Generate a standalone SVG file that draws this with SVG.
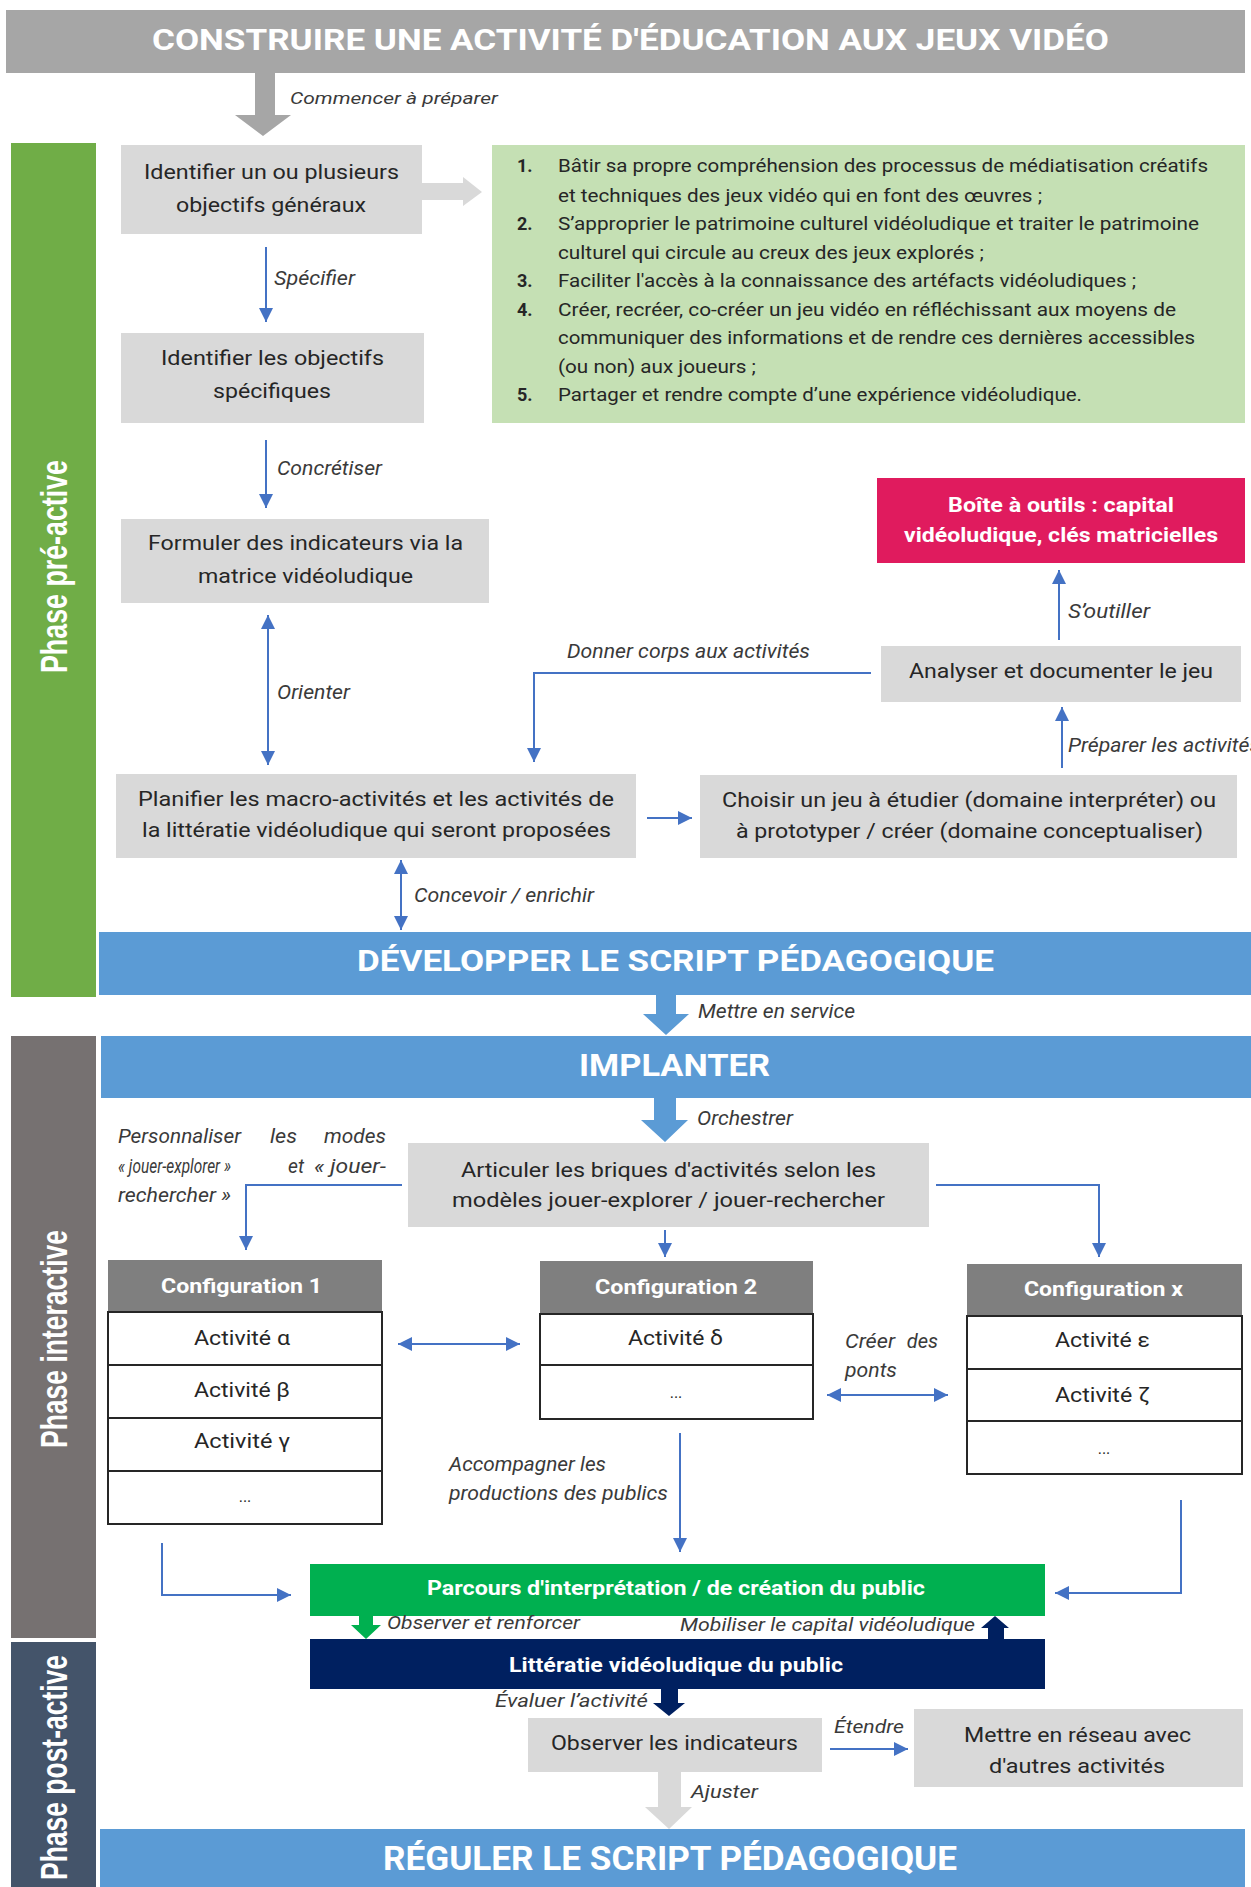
<svg xmlns="http://www.w3.org/2000/svg" width="1251" height="1887" viewBox="0 0 1251 1887">
<style>
text{font-family:Roboto,"Liberation Sans",sans-serif;fill:#262626}
.b{font-weight:bold}
.w{fill:#fff}
.bt{font-size:21px}
.lb{font-size:20px;font-style:italic;fill:#3a3a3a}
.ls{font-size:18px}
.ph{font-family:"Liberation Sans",Arial,sans-serif;font-weight:bold;font-size:37px;fill:#fff}
.hd{font-weight:bold;font-size:30px;fill:#fff}
.gbox{fill:#D9D9D9}
.conn{stroke:#4472C4;stroke-width:2;fill:none}
.row{fill:#fff;stroke:#262626;stroke-width:2}
.cfh{fill:#7F7F7F}
.blue{fill:#5B9BD5}
</style>
<defs>
<marker id="ah" viewBox="0 0 10 10" refX="10" refY="5" markerWidth="15" markerHeight="14" markerUnits="userSpaceOnUse" orient="auto-start-reverse">
<path d="M0,0 L10,5 L0,10 z" fill="#4472C4"/>
</marker>
</defs>

<g id="title">
<rect x="6" y="10" width="1239" height="63" fill="#A6A6A6"/>
<text class="hd" x="152" y="50" textLength="957" lengthAdjust="spacingAndGlyphs">CONSTRUIRE UNE ACTIVITÉ D'ÉDUCATION AUX JEUX VIDÉO</text>
</g>

<g id="phase-pre">
<rect x="11" y="143" width="85" height="854" fill="#70AD47"/>
<text class="ph" transform="translate(67,673) rotate(-90)" x="0" y="0" textLength="213" lengthAdjust="spacingAndGlyphs">Phase pré-active</text>
</g>
<g id="phase-inter">
<rect x="11" y="1036" width="85" height="602" fill="#767171"/>
<text class="ph" transform="translate(67,1448) rotate(-90)" x="0" y="0" textLength="218" lengthAdjust="spacingAndGlyphs">Phase interactive</text>
</g>
<g id="phase-post">
<rect x="11" y="1642" width="85" height="245" fill="#44546A"/>
<text class="ph" transform="translate(67,1880) rotate(-90)" x="0" y="0" textLength="225" lengthAdjust="spacingAndGlyphs">Phase post-active</text>
</g>

<g id="n-objgen">
<rect class="gbox" x="121" y="145" width="301" height="89"/>
<text class="bt" x="144" y="179" textLength="255" lengthAdjust="spacingAndGlyphs">Identifier un ou plusieurs</text>
<text class="bt" x="176" y="212" textLength="190" lengthAdjust="spacingAndGlyphs">objectifs généraux</text>
</g>

<g id="n-list">
<rect x="492" y="145" width="753" height="278" fill="#C5E0B4"/>
<text class="ls b" x="517" y="172">1.</text>
<text class="ls" x="558" y="172" textLength="650" lengthAdjust="spacingAndGlyphs">Bâtir sa propre compréhension des processus de médiatisation créatifs</text>
<text class="ls" x="558" y="202" textLength="484" lengthAdjust="spacingAndGlyphs">et techniques des jeux vidéo qui en font des œuvres ;</text>
<text class="ls b" x="517" y="230">2.</text>
<text class="ls" x="558" y="230" textLength="641" lengthAdjust="spacingAndGlyphs">S’approprier le patrimoine culturel vidéoludique et traiter le patrimoine</text>
<text class="ls" x="558" y="259" textLength="426" lengthAdjust="spacingAndGlyphs">culturel qui circule au creux des jeux explorés ;</text>
<text class="ls b" x="517" y="287">3.</text>
<text class="ls" x="558" y="287" textLength="578" lengthAdjust="spacingAndGlyphs">Faciliter l'accès à la connaissance des artéfacts vidéoludiques ;</text>
<text class="ls b" x="517" y="316">4.</text>
<text class="ls" x="558" y="316" textLength="618" lengthAdjust="spacingAndGlyphs">Créer, recréer, co-créer un jeu vidéo en réfléchissant aux moyens de</text>
<text class="ls" x="558" y="344" textLength="637" lengthAdjust="spacingAndGlyphs">communiquer des informations et de rendre ces dernières accessibles</text>
<text class="ls" x="558" y="373" textLength="198" lengthAdjust="spacingAndGlyphs">(ou non) aux joueurs ;</text>
<text class="ls b" x="517" y="401">5.</text>
<text class="ls" x="558" y="401" textLength="524" lengthAdjust="spacingAndGlyphs">Partager et rendre compte d’une expérience vidéoludique.</text>
</g>

<g id="n-objspec">
<rect class="gbox" x="121" y="333" width="303" height="90"/>
<text class="bt" x="161" y="365" textLength="223" lengthAdjust="spacingAndGlyphs">Identifier les objectifs</text>
<text class="bt" x="213" y="398" textLength="118" lengthAdjust="spacingAndGlyphs">spécifiques</text>
</g>

<g id="n-indic">
<rect class="gbox" x="121" y="519" width="368" height="84"/>
<text class="bt" x="148" y="550" textLength="315" lengthAdjust="spacingAndGlyphs">Formuler des indicateurs via la</text>
<text class="bt" x="198" y="583" textLength="215" lengthAdjust="spacingAndGlyphs">matrice vidéoludique</text>
</g>

<g id="n-planif">
<rect class="gbox" x="116" y="774" width="520" height="84"/>
<text class="bt" x="138" y="806" textLength="476" lengthAdjust="spacingAndGlyphs">Planifier les macro-activités et les activités de</text>
<text class="bt" x="142" y="837" textLength="469" lengthAdjust="spacingAndGlyphs">la littératie vidéoludique qui seront proposées</text>
</g>

<g id="n-choisir">
<rect class="gbox" x="700" y="775" width="537" height="83"/>
<text class="bt" x="722" y="807" textLength="494" lengthAdjust="spacingAndGlyphs">Choisir un jeu à étudier (domaine interpréter) ou</text>
<text class="bt" x="736" y="838" textLength="467" lengthAdjust="spacingAndGlyphs">à prototyper / créer (domaine conceptualiser)</text>
</g>

<g id="n-analyser">
<rect class="gbox" x="881" y="646" width="360" height="56"/>
<text class="bt" x="909" y="678" textLength="304" lengthAdjust="spacingAndGlyphs">Analyser et documenter le jeu</text>
</g>

<g id="n-boite">
<rect x="877" y="478" width="368" height="85" fill="#E01B5E"/>
<text class="bt b w" x="948" y="512" textLength="226" lengthAdjust="spacingAndGlyphs">Boîte à outils : capital</text>
<text class="bt b w" x="904" y="542" textLength="314" lengthAdjust="spacingAndGlyphs">vidéoludique, clés matricielles</text>
</g>

<g id="n-developper">
<rect class="blue" x="99" y="932" width="1152" height="63"/>
<text class="hd" x="357" y="971" textLength="637" lengthAdjust="spacingAndGlyphs">DÉVELOPPER LE SCRIPT PÉDAGOGIQUE</text>
</g>

<g id="n-implanter">
<rect class="blue" x="101" y="1036" width="1150" height="62"/>
<text class="hd" style="font-size:31px" x="579" y="1076" textLength="191" lengthAdjust="spacingAndGlyphs">IMPLANTER</text>
</g>

<g id="n-articuler">
<rect class="gbox" x="408" y="1143" width="521" height="84"/>
<text class="bt" style="font-size:20px" x="461" y="1177" textLength="415" lengthAdjust="spacingAndGlyphs">Articuler les briques d'activités selon les</text>
<text class="bt" style="font-size:20px" x="452" y="1207" textLength="433" lengthAdjust="spacingAndGlyphs">modèles jouer-explorer / jouer-rechercher</text>
</g>

<g id="n-config1">
<rect class="cfh" x="108" y="1260" width="274" height="52"/>
<text class="bt b w" x="161" y="1293" textLength="161" lengthAdjust="spacingAndGlyphs">Configuration 1</text>
<rect class="row" x="108" y="1312" width="274" height="53"/>
<rect class="row" x="108" y="1365" width="274" height="53"/>
<rect class="row" x="108" y="1418" width="274" height="53"/>
<rect class="row" x="108" y="1471" width="274" height="53"/>
<text class="bt" x="194" y="1345" textLength="96" lengthAdjust="spacingAndGlyphs">Activité α</text>
<text class="bt" x="194" y="1397" textLength="96" lengthAdjust="spacingAndGlyphs">Activité β</text>
<text class="bt" x="194" y="1448" textLength="96" lengthAdjust="spacingAndGlyphs">Activité γ</text>
<text style="font-size:16px" x="245" y="1502" text-anchor="middle">...</text>
</g>

<g id="n-config2">
<rect class="cfh" x="540" y="1261" width="273" height="53"/>
<text class="bt b w" x="595" y="1294" textLength="162" lengthAdjust="spacingAndGlyphs">Configuration 2</text>
<rect class="row" x="540" y="1314" width="273" height="51"/>
<rect class="row" x="540" y="1365" width="273" height="54"/>
<text class="bt" x="628" y="1345" textLength="95" lengthAdjust="spacingAndGlyphs">Activité δ</text>
<text style="font-size:16px" x="676" y="1398" text-anchor="middle">...</text>
</g>

<g id="n-configx">
<rect class="cfh" x="967" y="1264" width="275" height="52"/>
<text class="bt b w" x="1024" y="1296" textLength="159" lengthAdjust="spacingAndGlyphs">Configuration x</text>
<rect class="row" x="967" y="1316" width="275" height="53"/>
<rect class="row" x="967" y="1369" width="275" height="52"/>
<rect class="row" x="967" y="1421" width="275" height="53"/>
<text class="bt" x="1055" y="1347" textLength="95" lengthAdjust="spacingAndGlyphs">Activité ε</text>
<text class="bt" x="1055" y="1402" textLength="95" lengthAdjust="spacingAndGlyphs">Activité ζ</text>
<text style="font-size:16px" x="1104" y="1454" text-anchor="middle">...</text>
</g>

<g id="n-parcours">
<rect x="310" y="1564" width="735" height="52" fill="#00B050"/>
<text class="b w" style="font-size:20px" x="427" y="1595" textLength="498" lengthAdjust="spacingAndGlyphs">Parcours d'interprétation / de création du public</text>
</g>

<g id="n-litteratie">
<rect x="310" y="1639" width="735" height="50" fill="#002060"/>
<text class="b w" style="font-size:21px" x="509" y="1672" textLength="334" lengthAdjust="spacingAndGlyphs">Littératie vidéoludique du public</text>
</g>

<g id="n-observer">
<rect class="gbox" x="528" y="1718" width="294" height="54"/>
<text class="bt" x="551" y="1750" textLength="247" lengthAdjust="spacingAndGlyphs">Observer les indicateurs</text>
</g>

<g id="n-reseau">
<rect class="gbox" x="914" y="1709" width="329" height="78"/>
<text class="bt" style="font-size:20px" x="964" y="1742" textLength="227" lengthAdjust="spacingAndGlyphs">Mettre en réseau avec</text>
<text class="bt" style="font-size:20px" x="989" y="1773" textLength="176" lengthAdjust="spacingAndGlyphs">d'autres activités</text>
</g>

<g id="n-reguler">
<rect class="blue" x="100" y="1829" width="1145" height="58"/>
<text class="hd" style="font-size:33px" x="383" y="1870" textLength="574" lengthAdjust="spacingAndGlyphs">RÉGULER LE SCRIPT PÉDAGOGIQUE</text>
</g>

<g id="connectors">
<polygon points="255,73 275,73 275,115 291,115 263,136 235,115 255,115" fill="#A6A6A6"/>
<text class="lb" style="font-size:17px" x="290" y="104" textLength="208" lengthAdjust="spacingAndGlyphs">Commencer à préparer</text>

<polygon points="422,183 463,183 463,177 482,192 463,206 463,200 422,200" fill="#D9D9D9"/>

<line class="conn" x1="266" y1="247" x2="266" y2="322" marker-end="url(#ah)"/>
<text class="lb" x="274" y="285" textLength="81" lengthAdjust="spacingAndGlyphs">Spécifier</text>

<line class="conn" x1="266" y1="440" x2="266" y2="508" marker-end="url(#ah)"/>
<text class="lb" x="277" y="475" textLength="105" lengthAdjust="spacingAndGlyphs">Concrétiser</text>

<line class="conn" x1="268" y1="615" x2="268" y2="765" marker-start="url(#ah)" marker-end="url(#ah)"/>
<text class="lb" x="277" y="699" textLength="73" lengthAdjust="spacingAndGlyphs">Orienter</text>

<path class="conn" d="M871,673 H534 V762" marker-end="url(#ah)"/>
<text class="lb" x="567" y="658" textLength="243" lengthAdjust="spacingAndGlyphs">Donner corps aux activités</text>

<line class="conn" x1="647" y1="818" x2="692" y2="818" marker-end="url(#ah)"/>

<line class="conn" x1="1062" y1="768" x2="1062" y2="707" marker-end="url(#ah)"/>
<text class="lb" x="1068" y="752" textLength="192" lengthAdjust="spacingAndGlyphs">Préparer les activités</text>

<line class="conn" x1="1059" y1="640" x2="1059" y2="570" marker-end="url(#ah)"/>
<text class="lb" x="1068" y="618" textLength="82" lengthAdjust="spacingAndGlyphs">S’outiller</text>

<line class="conn" x1="401" y1="860" x2="401" y2="930" marker-start="url(#ah)" marker-end="url(#ah)"/>
<text class="lb" x="414" y="902" textLength="180" lengthAdjust="spacingAndGlyphs">Concevoir / enrichir</text>

<polygon points="656,995 676,995 676,1014 689,1014 666,1035 643,1014 656,1014" fill="#5B9BD5"/>
<text class="lb" x="698" y="1018" textLength="157" lengthAdjust="spacingAndGlyphs">Mettre en service</text>

<polygon points="654,1098 676,1098 676,1120 688,1120 665,1142 641,1120 654,1120" fill="#5B9BD5"/>
<text class="lb" x="697" y="1125" textLength="96" lengthAdjust="spacingAndGlyphs">Orchestrer</text>

<path class="conn" d="M402,1185 H246 V1250" marker-end="url(#ah)"/>
<text class="lb" x="118" y="1143" textLength="123" lengthAdjust="spacingAndGlyphs">Personnaliser</text>
<text class="lb" x="270" y="1143" textLength="27" lengthAdjust="spacingAndGlyphs">les</text>
<text class="lb" x="324" y="1143" textLength="62" lengthAdjust="spacingAndGlyphs">modes</text>
<text class="lb" x="118" y="1173" textLength="113" lengthAdjust="spacingAndGlyphs">« jouer-explorer »</text>
<text class="lb" x="288" y="1173" textLength="16" lengthAdjust="spacingAndGlyphs">et</text>
<text class="lb" x="314" y="1173" textLength="72" lengthAdjust="spacingAndGlyphs">« jouer-</text>
<text class="lb" x="118" y="1202" textLength="113" lengthAdjust="spacingAndGlyphs">rechercher »</text>

<line class="conn" x1="665" y1="1230" x2="665" y2="1257" marker-end="url(#ah)"/>
<path class="conn" d="M936,1185 H1099 V1257" marker-end="url(#ah)"/>

<line class="conn" x1="398" y1="1344" x2="520" y2="1344" marker-start="url(#ah)" marker-end="url(#ah)"/>
<line class="conn" x1="827" y1="1395" x2="948" y2="1395" marker-start="url(#ah)" marker-end="url(#ah)"/>
<text class="lb" x="845" y="1348" textLength="50" lengthAdjust="spacingAndGlyphs">Créer</text>
<text class="lb" x="938" y="1348" text-anchor="end">des</text>
<text class="lb" x="845" y="1377" textLength="52" lengthAdjust="spacingAndGlyphs">ponts</text>

<line class="conn" x1="680" y1="1433" x2="680" y2="1552" marker-end="url(#ah)"/>
<text class="lb" x="449" y="1471" textLength="157" lengthAdjust="spacingAndGlyphs">Accompagner les</text>
<text class="lb" x="449" y="1500" textLength="219" lengthAdjust="spacingAndGlyphs">productions des publics</text>

<path class="conn" d="M162,1543 V1595 H291" marker-end="url(#ah)"/>
<path class="conn" d="M1181,1500 V1593 H1055" marker-end="url(#ah)"/>

<polygon points="359,1616 373,1616 373,1625 381,1625 366,1639 351,1625 359,1625" fill="#00B050"/>
<text class="lb" style="font-size:19px" x="387" y="1629" textLength="193" lengthAdjust="spacingAndGlyphs">Observer et renforcer</text>

<polygon points="988,1639 1004,1639 1004,1628 1009,1628 995,1616 981,1628 988,1628" fill="#002060"/>
<text class="lb" style="font-size:19px" x="680" y="1631" textLength="295" lengthAdjust="spacingAndGlyphs">Mobiliser le capital vidéoludique</text>

<polygon points="661,1689 678,1689 678,1703 685,1703 669,1716 653,1703 661,1703" fill="#002060"/>
<text class="lb" style="font-size:19px" x="495" y="1707" textLength="153" lengthAdjust="spacingAndGlyphs">Évaluer l’activité</text>

<line class="conn" x1="830" y1="1749" x2="908" y2="1749" marker-end="url(#ah)"/>
<text class="lb" style="font-size:19px" x="834" y="1733" textLength="70" lengthAdjust="spacingAndGlyphs">Étendre</text>

<polygon points="658,1772 681,1772 681,1807 692,1807 669,1829 645,1807 658,1807" fill="#D9D9D9"/>
<text class="lb" style="font-size:19px" x="691" y="1798" textLength="67" lengthAdjust="spacingAndGlyphs">Ajuster</text>
</g>
</svg>
